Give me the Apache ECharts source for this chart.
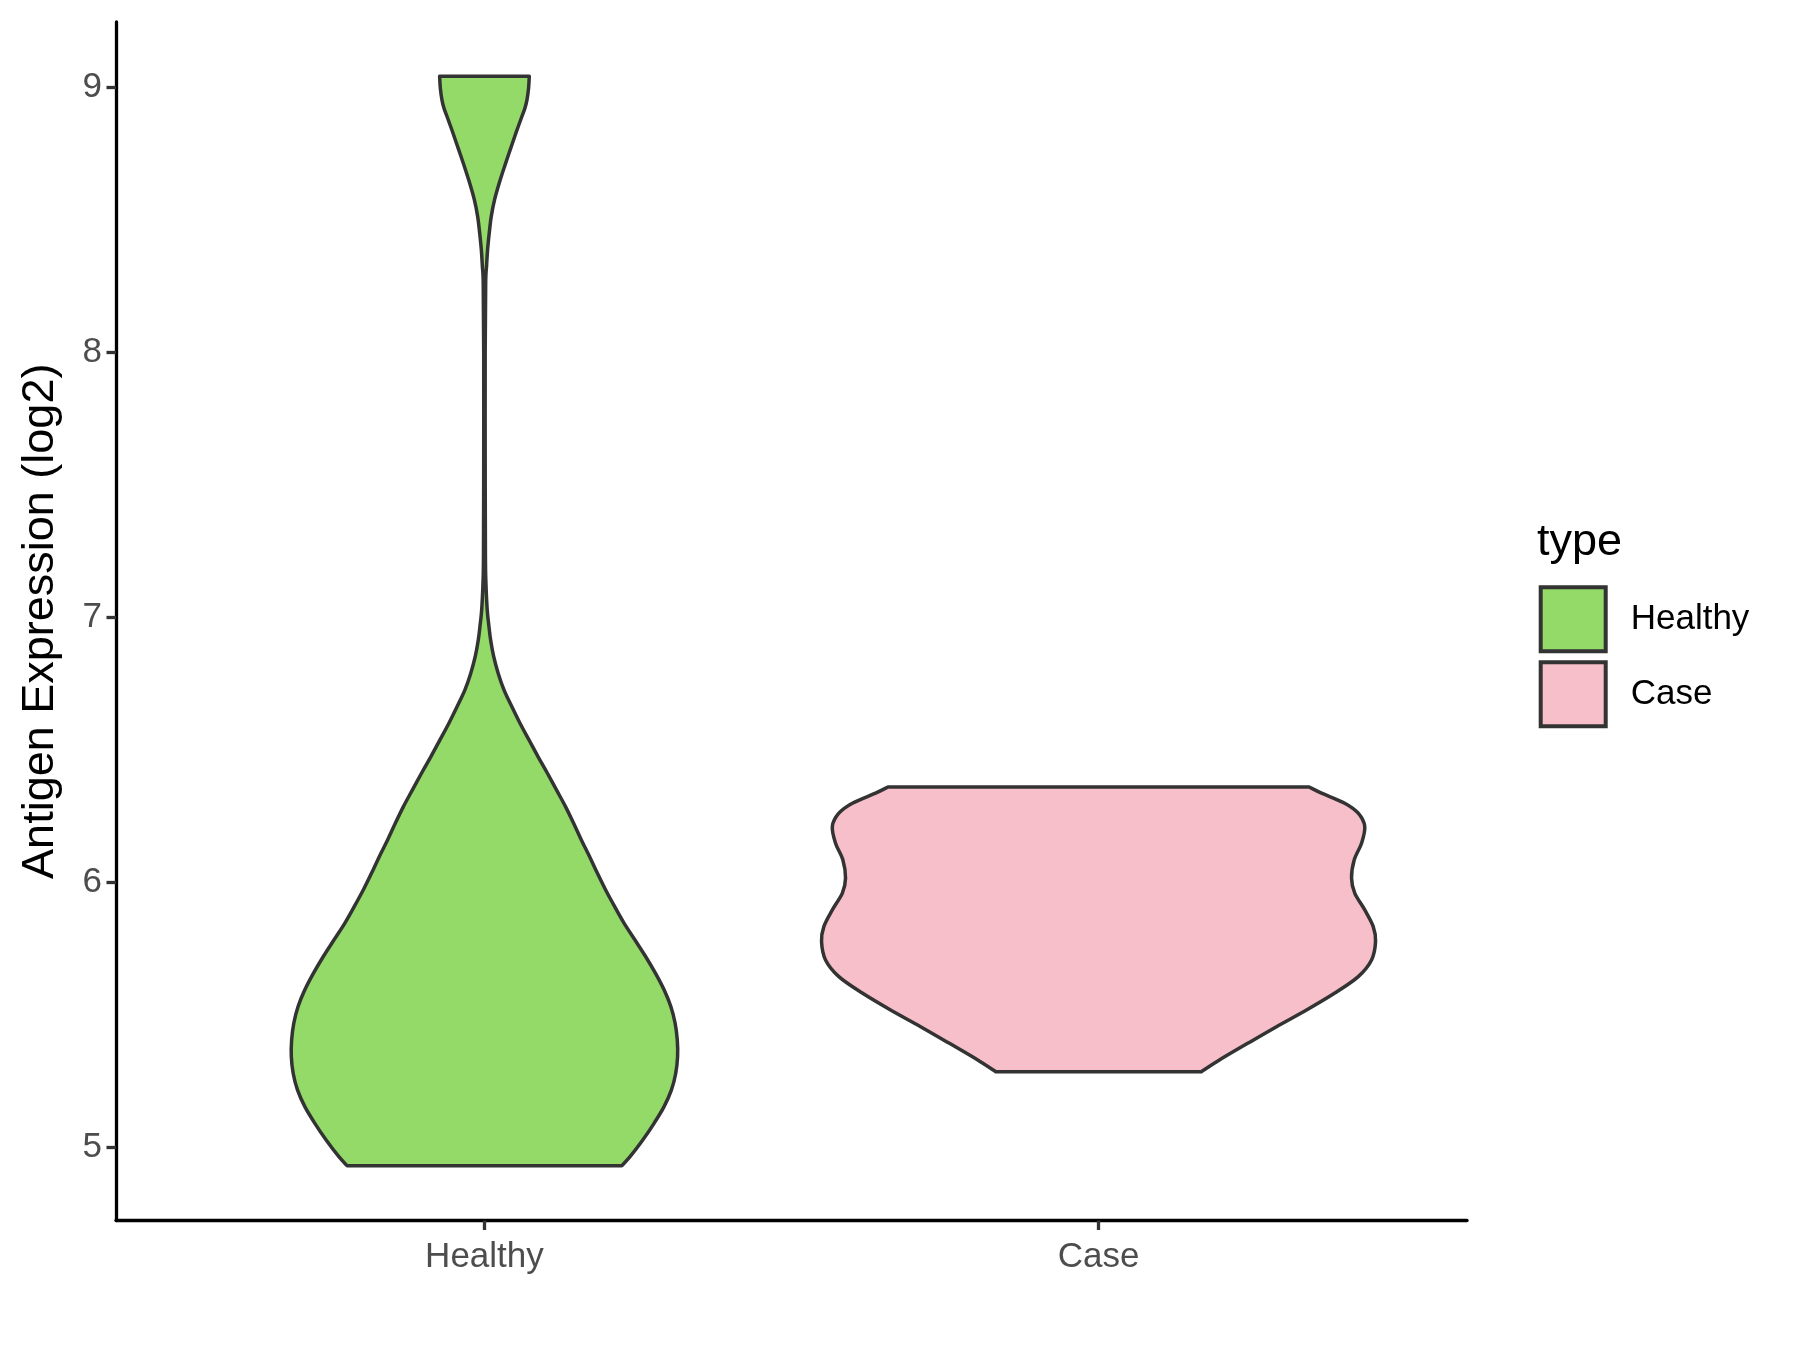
<!DOCTYPE html>
<html>
<head>
<meta charset="utf-8">
<script src="https://cdn.jsdelivr.net/npm/echarts@6/dist/echarts.min.js"></script>
<style>html,body{margin:0;padding:0;background:#fff}#chart{width:1800px;height:1350px}</style>
</head>
<body>
<div id="chart"></div>
<script>
// ---------- data ----------
const categories = ['Healthy', 'Case'];
const yTicks = [5, 6, 7, 8, 9];
const fillColors = ['#93DA69', '#F7BFCA'];

// violin outlines: expression value (log2) and half-width (in x-axis units)
const healthyValue = [4.929, 4.963, 5.026, 5.089, 5.152, 5.215, 5.278, 5.341, 5.404, 5.467, 5.530, 5.593, 5.656, 5.719, 5.782, 5.845, 5.908, 5.971, 6.034, 6.097, 6.160, 6.223, 6.285, 6.348, 6.412, 6.474, 6.537, 6.600, 6.663, 6.726, 6.789, 6.852, 6.915, 6.972, 7.028, 7.129, 7.230, 7.600, 8.000, 8.262, 8.325, 8.388, 8.451, 8.514, 8.577, 8.640, 8.703, 8.766, 8.829, 8.892, 8.923, 8.955, 8.999, 9.043];
const healthyHalfWidth = [0.2236, 0.2371, 0.2578, 0.2762, 0.2925, 0.3045, 0.3115, 0.3145, 0.3140, 0.3105, 0.3035, 0.2925, 0.2784, 0.2624, 0.2449, 0.2273, 0.2119, 0.1972, 0.1838, 0.1711, 0.1576, 0.1450, 0.1320, 0.1173, 0.1023, 0.0872, 0.0725, 0.0579, 0.0445, 0.0318, 0.0223, 0.0150, 0.0100, 0.0070, 0.0045, 0.0024, 0.0016, 0.0012, 0.0012, 0.0020, 0.0034, 0.0051, 0.0078, 0.0111, 0.0165, 0.0241, 0.0328, 0.0420, 0.0513, 0.0611, 0.0660, 0.0693, 0.0719, 0.0730];

const caseValue = [5.284, 5.329, 5.392, 5.454, 5.517, 5.581, 5.643, 5.706, 5.776, 5.832, 5.895, 5.958, 6.015, 6.084, 6.147, 6.210, 6.260, 6.298, 6.336, 6.359];
const caseHalfWidth = [0.1675, 0.1974, 0.2436, 0.2898, 0.3387, 0.3848, 0.4229, 0.4446, 0.4511, 0.4473, 0.4335, 0.4172, 0.4120, 0.4164, 0.4283, 0.4335, 0.4229, 0.4009, 0.3631, 0.3431];

// ---------- helpers ----------
const FONT = '"Liberation Sans", Arial, Helvetica, sans-serif';

function buildData(pos, values, halfWidths) {
  return values.map((v, i) => [pos, v, halfWidths[i]]);
}

function spline(pts) {
  let d = '';
  for (let i = 0; i < pts.length - 1; i++) {
    const p0 = pts[i - 1] || pts[i];
    const p1 = pts[i];
    const p2 = pts[i + 1];
    const p3 = pts[i + 2] || pts[i + 1];
    const c1x = p1[0] + (p2[0] - p0[0]) / 6, c1y = p1[1] + (p2[1] - p0[1]) / 6;
    const c2x = p2[0] - (p3[0] - p1[0]) / 6, c2y = p2[1] - (p3[1] - p1[1]) / 6;
    d += ' C' + c1x + ',' + c1y + ' ' + c2x + ',' + c2y + ' ' + p2[0] + ',' + p2[1];
  }
  return d;
}

function renderViolin(params, api) {
  if (params.dataIndexInside !== 0) return null;
  const n = params.dataInsideLength;
  const left = [], right = [];
  for (let i = 0; i < n; i++) {
    const c = api.value(0, i), v = api.value(1, i), hw = api.value(2, i);
    left.push(api.coord([c - hw, v]));
    right.push(api.coord([c + hw, v]));
  }
  const rightDown = right.slice().reverse();
  let d = 'M' + left[0][0] + ',' + left[0][1];
  d += spline(left);
  d += ' L' + rightDown[0][0] + ',' + rightDown[0][1];
  d += spline(rightDown);
  d += ' Z';
  return {
    type: 'path',
    shape: { pathData: d },
    style: { fill: api.visual('color'), stroke: '#333333', lineWidth: 3.5, lineJoin: 'round' }
  };
}

const chart = echarts.init(document.getElementById('chart'), null, { renderer: 'canvas' });

chart.setOption({
  backgroundColor: '#ffffff',
  animation: false,
  textStyle: { fontFamily: FONT },
  grid: { left: 116, right: 333, top: 22, bottom: 129.5, containLabel: false, outerBoundsMode: 'none' },
  xAxis: {
    type: 'value',
    min: 0.4,
    max: 2.6,
    splitLine: { show: false },
    axisLine: { show: true, onZero: false, lineStyle: { color: '#000000', width: 3.3 } },
    axisTick: { show: true, customValues: [1, 2], length: 9.5, lineStyle: { color: '#333333', width: 3.3 } },
    axisLabel: {
      customValues: [1, 2],
      formatter: v => categories[Math.round(v) - 1],
      fontSize: 35, color: '#4D4D4D', fontFamily: FONT, margin: 19
    }
  },
  yAxis: {
    type: 'value',
    min: 4.722,
    max: 9.248,
    name: 'Antigen Expression (log2)',
    nameLocation: 'middle',
    nameGap: 53,
    nameMoveOverlap: false,
    nameTextStyle: { fontSize: 45, color: '#000000', fontFamily: FONT },
    splitLine: { show: false },
    axisLine: { show: true, onZero: false, lineStyle: { color: '#000000', width: 3.3 } },
    axisTick: { show: true, customValues: yTicks, length: 9.5, lineStyle: { color: '#333333', width: 3.3 } },
    axisLabel: {
      customValues: yTicks,
      formatter: v => String(Math.round(v)),
      fontSize: 35, color: '#4D4D4D', fontFamily: FONT, margin: 14
    }
  },
  legend: {
    show: true,
    orient: 'vertical',
    left: 1538.7,
    top: 585.3,
    padding: 0,
    itemWidth: 65,
    itemHeight: 64,
    itemGap: 7,
    icon: 'rect',
    selectedMode: false,
    textStyle: { fontSize: 35, color: '#000000', fontFamily: FONT, padding: [0, 0, 0, 20] },
    data: categories.map((c, i) => ({
      name: c,
      icon: 'rect',
      itemStyle: { color: fillColors[i], borderColor: '#333333', borderWidth: 4 }
    }))
  },
  graphic: [{
    type: 'text',
    left: 1537,
    top: 520,
    style: { text: 'type', font: '45px ' + FONT, fill: '#000000' }
  }],
  series: [
    {
      name: categories[0],
      type: 'custom',
      renderItem: renderViolin,
      silent: true,
      clip: false,
      itemStyle: { color: fillColors[0], borderColor: '#333333' },
      encode: { x: 0, y: 1 },
      data: buildData(1, healthyValue, healthyHalfWidth)
    },
    {
      name: categories[1],
      type: 'custom',
      renderItem: renderViolin,
      silent: true,
      clip: false,
      itemStyle: { color: fillColors[1], borderColor: '#333333' },
      encode: { x: 0, y: 1 },
      data: buildData(2, caseValue, caseHalfWidth)
    }
  ]
});
</script>
</body>
</html>
